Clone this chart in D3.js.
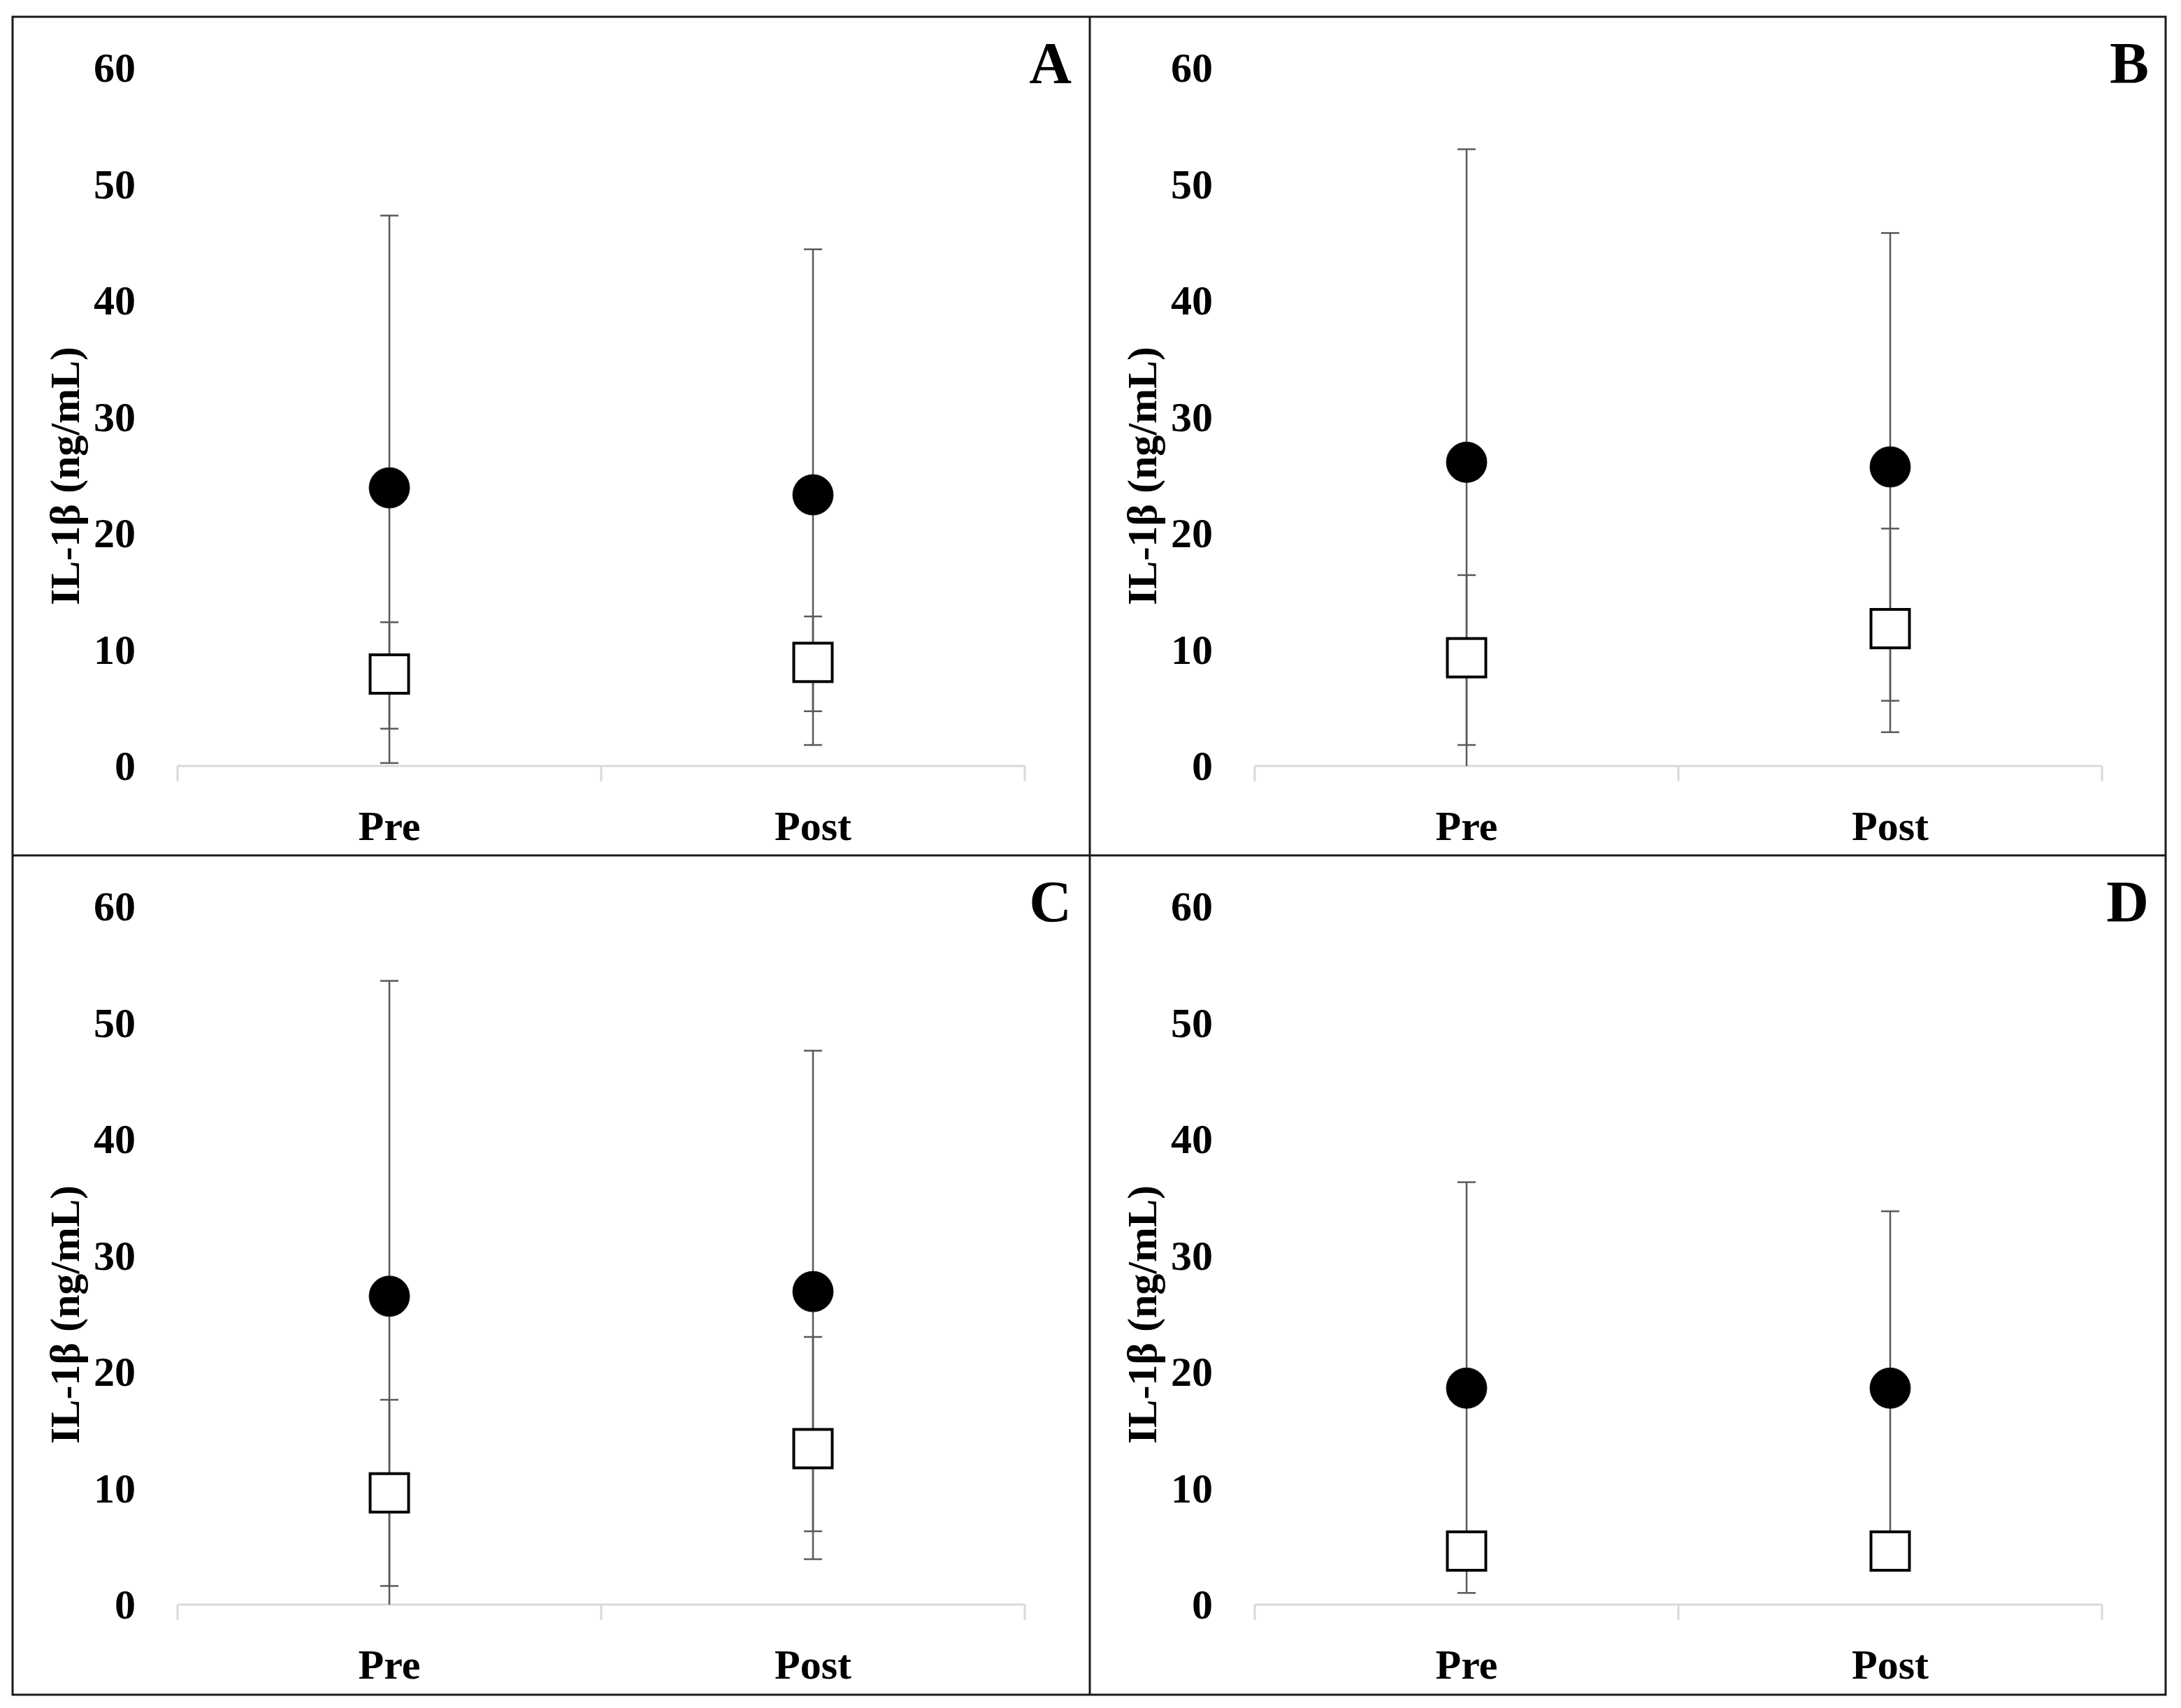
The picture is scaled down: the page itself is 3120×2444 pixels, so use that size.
<!DOCTYPE html>
<html>
<head>
<meta charset="utf-8">
<script src="https://cdn.jsdelivr.net/npm/d3@7"></script>
<style>
  html, body { margin: 0; padding: 0; background: #ffffff; }
  svg { display: block; }
  text { font-family: "Liberation Serif", "Times New Roman", serif; font-weight: bold; fill: #000; }
</style>
</head>
<body>
<svg id="chart" width="3120" height="2444"></svg>
<script>
// ---------- data ----------
const panels = ["A", "B", "C", "D"];
const categories = ["Pre", "Post"];
const yTicks = [0, 10, 20, 30, 40, 50, 60];
const yTitle = "IL-1β (ng/mL)";

// filled circles: mean, lower and upper error-bar ends, per panel [Pre, Post]
const circleMean  = [[23.9, 23.3], [26.1, 25.7], [26.5, 26.9], [18.6, 18.6]];
const circleLower = [[0.25, 1.8], [-0.8, 5.6], [-0.6, 6.3], [1.0, 3.4]];
const circleUpper = [[47.3, 44.4], [53.0, 45.8], [53.6, 47.6], [36.3, 33.8]];

// open squares: mean, lower and upper error-bar ends, per panel [Pre, Post]
const squareMean  = [[7.9, 8.9], [9.3, 11.8], [9.6, 13.4], [4.6, 4.6]];
const squareLower = [[3.2, 4.7], [1.8, 2.9], [1.6, 3.9], [3.6, 3.6]];
const squareUpper = [[12.35, 12.85], [16.4, 20.4], [17.6, 23.0], [5.6, 5.6]];

// ---------- layout ----------
const svg = d3.select("#chart");
const frame = { left: 18, top: 24, right: 3098, bottom: 2425, midX: 1559, midY: 1224 };
const panelOrigins = [
  [frame.left, frame.top], [frame.midX, frame.top],
  [frame.left, frame.midY], [frame.midX, frame.midY]
];

const x = d3.scaleBand().domain(categories).range([236, 1448]).padding(0);
const y = d3.scaleLinear().domain([0, 60]).range([1072, 73]);

const barColor = "#595959";
const capW = 26;

panels.forEach((letter, p) => {
  const g = svg.append("g").attr("transform", `translate(${panelOrigins[p][0]},${panelOrigins[p][1]})`);

  // y tick labels
  const yAxis = d3.axisLeft(y).tickValues(yTicks).tickSize(0).tickPadding(0).tickFormat(d3.format("d"));
  const ya = g.append("g").attr("transform", "translate(176,0)").call(yAxis);
  ya.select(".domain").remove();
  ya.selectAll("text")
    .attr("font-family", "Liberation Serif")
    .attr("font-weight", "bold")
    .attr("font-size", 60)
    .attr("fill", "#000")
    .attr("dy", "0.33em");

  // y title
  g.append("text")
    .attr("transform", `translate(95,657) rotate(-90)`)
    .attr("text-anchor", "middle")
    .attr("font-size", 60)
    .text(yTitle);

  // x baseline and tick marks
  const [x0, x1] = x.range();
  g.append("line").attr("x1", x0).attr("x2", x1).attr("y1", y(0)).attr("y2", y(0))
    .attr("stroke", "#d9d9d9").attr("stroke-width", 3);
  const bounds = categories.map(c => x(c)).concat([x1]);
  g.selectAll(".xtick").data(bounds).join("line")
    .attr("x1", d => d).attr("x2", d => d)
    .attr("y1", y(0)).attr("y2", y(0) + 22)
    .attr("stroke", "#d9d9d9").attr("stroke-width", 3);

  // category labels
  g.selectAll(".cat").data(categories).join("text")
    .attr("x", d => x(d) + x.bandwidth() / 2)
    .attr("y", 1178)
    .attr("text-anchor", "middle")
    .attr("font-size", 60)
    .text(d => d);

  // panel letter
  g.append("text")
    .attr("x", 1515).attr("y", 95)
    .attr("text-anchor", "end")
    .attr("font-size", 84)
    .text(letter);

  const cx = c => x(c) + x.bandwidth() / 2;
  const series = [
    { mean: circleMean[p], lo: circleLower[p], hi: circleUpper[p] },
    { mean: squareMean[p], lo: squareLower[p], hi: squareUpper[p] }
  ];

  // error bars
  series.forEach(s => {
    categories.forEach((c, i) => {
      const lo = Math.max(0, s.lo[i]);
      g.append("line")
        .attr("x1", cx(c)).attr("x2", cx(c))
        .attr("y1", y(lo)).attr("y2", y(s.hi[i]))
        .attr("stroke", barColor).attr("stroke-width", 2.5);
      g.append("line")
        .attr("x1", cx(c) - capW / 2).attr("x2", cx(c) + capW / 2)
        .attr("y1", y(s.hi[i])).attr("y2", y(s.hi[i]))
        .attr("stroke", barColor).attr("stroke-width", 2.5);
      if (s.lo[i] > 0) {
        g.append("line")
          .attr("x1", cx(c) - capW / 2).attr("x2", cx(c) + capW / 2)
          .attr("y1", y(s.lo[i])).attr("y2", y(s.lo[i]))
          .attr("stroke", barColor).attr("stroke-width", 2.5);
      }
    });
  });

  // circles
  g.selectAll(".circ").data(categories).join("circle")
    .attr("cx", d => cx(d))
    .attr("cy", (d, i) => y(circleMean[p][i]))
    .attr("r", 29)
    .attr("fill", "#000")
    .attr("stroke", "#0b1a2a").attr("stroke-width", 1);

  // squares
  const sq = 55;
  g.selectAll(".sq").data(categories).join("rect")
    .attr("x", d => cx(d) - sq / 2)
    .attr("y", (d, i) => y(squareMean[p][i]) - sq / 2)
    .attr("width", sq).attr("height", sq)
    .attr("fill", "#fff")
    .attr("stroke", "#000").attr("stroke-width", 4);
});

// frame
svg.append("rect")
  .attr("x", frame.left).attr("y", frame.top)
  .attr("width", frame.right - frame.left).attr("height", frame.bottom - frame.top)
  .attr("fill", "none").attr("stroke", "#1a1a1a").attr("stroke-width", 3);
svg.append("line").attr("x1", frame.midX).attr("x2", frame.midX).attr("y1", frame.top).attr("y2", frame.bottom)
  .attr("stroke", "#1a1a1a").attr("stroke-width", 3);
svg.append("line").attr("x1", frame.left).attr("x2", frame.right).attr("y1", frame.midY).attr("y2", frame.midY)
  .attr("stroke", "#1a1a1a").attr("stroke-width", 3);
</script>
</body>
</html>
